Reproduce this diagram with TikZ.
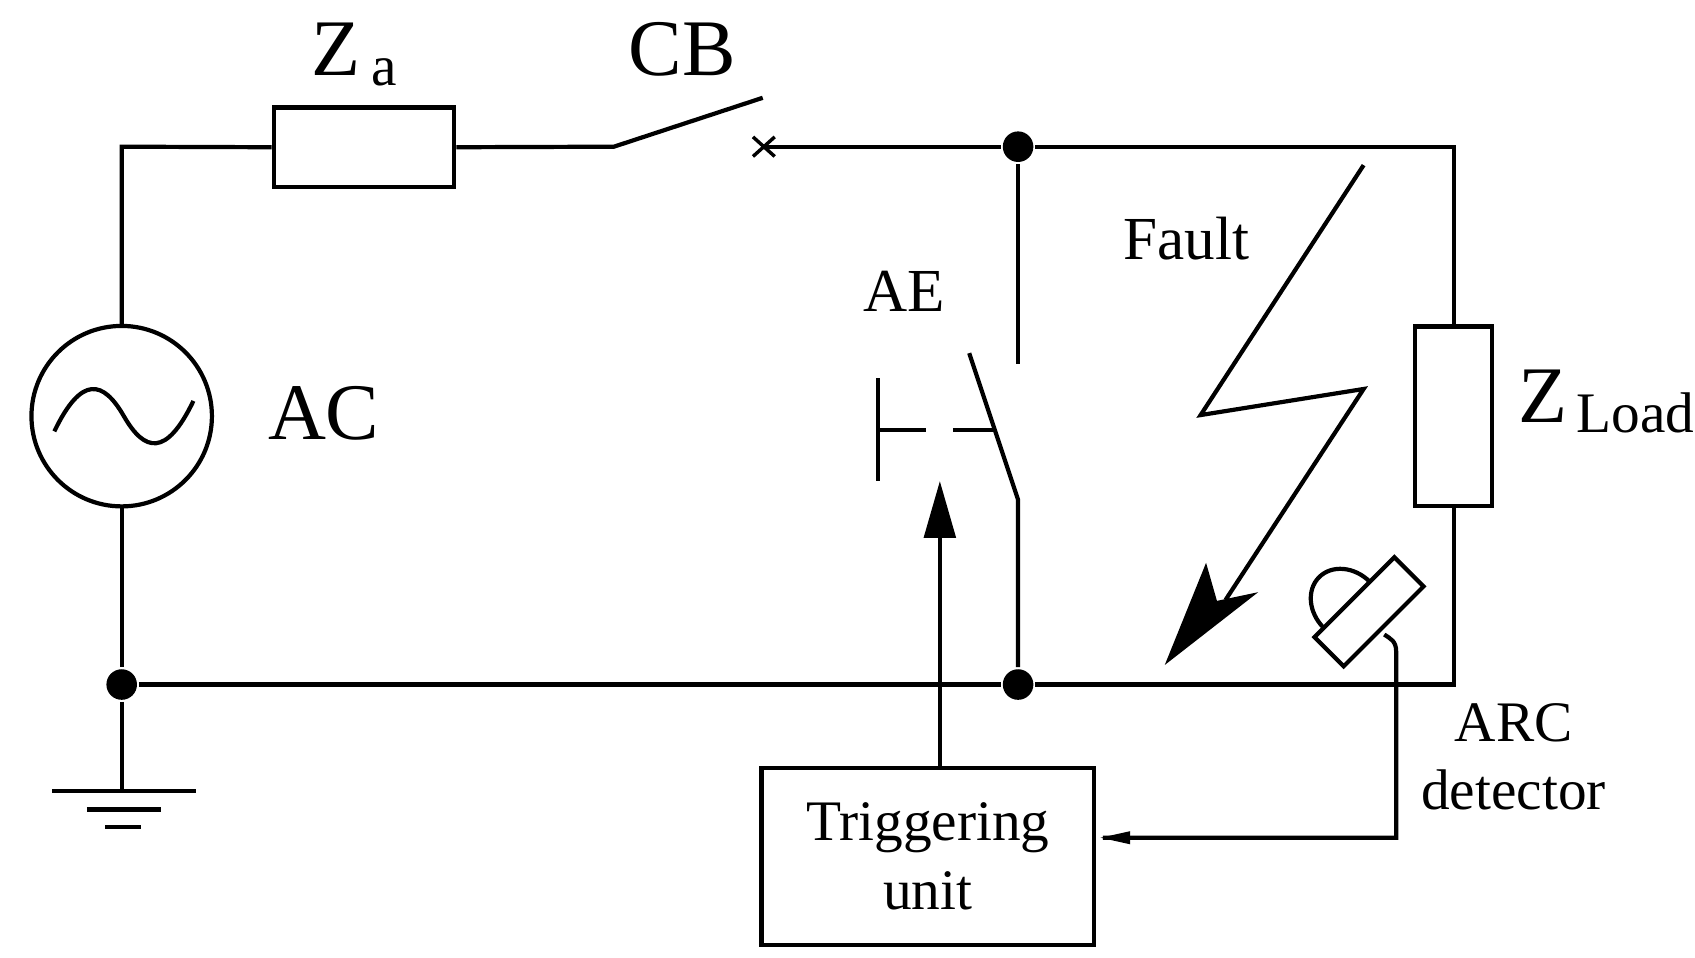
\documentclass[tikz,border=0pt]{standalone}
\usepackage{fontspec}
\setmainfont{Liberation Serif}
\usetikzlibrary{arrows.meta}
\begin{document}
\begin{tikzpicture}[x=0.01cm,y=-0.01cm,line width=1.1pt,
  box/.style={draw,line width=1.1pt,inner sep=0pt},
  dot/.style={circle,fill,inner sep=0pt,minimum size=8pt},
  lbl/.style={font=\fontsize{21}{24}\selectfont,inner sep=0pt},
  sub/.style={font=\fontsize{15}{18}\selectfont,inner sep=0pt},
  small/.style={font=\fontsize{16}{17}\selectfont,inner sep=0pt,align=center}]
\useasboundingbox (0,0) rectangle (1560,881);
% nodes
\node[inner sep=0pt,minimum size=1.66cm,circle] (src) at (112,383) {};
\node[box,minimum width=1.66cm,minimum height=0.73cm] (za) at (335,135.5) {};
\node[box,minimum width=0.71cm,minimum height=1.65cm] (zl) at (1338,383) {};
\node[box,minimum width=3.06cm,minimum height=1.63cm,small,font=\fontsize{15}{17}\selectfont] (tu) at (854,788) {Triggering\\[1pt]unit};
\node[dot] (d1) at (937,135) {};
\node[dot] (d2) at (937,630) {};
\node[dot] (d3) at (112,630) {};
\coordinate (tl) at (112,135);
\coordinate (tr) at (1338,135);
\coordinate (br) at (1338,630);
\coordinate (cbA) at (565,135);
\coordinate (cbB) at (702,90);
\coordinate (cbX) at (703,135);
\coordinate (aeTop) at (937,335);
\coordinate (aeB1) at (892,325);
\coordinate (aeB2) at (937,460);
\coordinate (gnd) at (112,728);
\draw (src.center) circle (0.83cm);
\draw (src.north) -- (tl) -- (za.west);
\draw (za.east) -- (cbA) -- (cbB);
\draw[line width=0.9pt] (cbX)+(-10,-9) -- +(10,9) (cbX)+(-10,9) -- +(10,-9);
\draw (cbX) -- (d1) -- (tr) -- (zl.north);
\draw (zl.south) -- (br) -- (d2) -- (d3);
\draw (d1) -- (aeTop);
\draw (aeB1) -- (aeB2) -- (d2);
\draw (src.south) -- (d3) -- (gnd);
\draw (48,728) -- (180,728) (80,745) -- (148,745) (97,761) -- (130,761);
% sine
\draw (50,397) .. controls (75,345) and (95,350) .. (114,383) .. controls (133,416) and (153,421) .. (178,369);
% AE contact
\draw (808,348) -- (808,443);
\draw (808,396) -- (852,396) (877,396) -- (915,396);
% trigger arrow
\draw (tu.north -| 865,0) -- (865,490);
\fill (865,443) -- (880,495) -- (850,495) -- cycle;
% ARC detector wire
\draw (1015,771) -- (1285,771) -- (1285,600) .. controls (1285,590) and (1280,588) .. (1274,584);
\fill (1013,771) -- (1040,765) -- (1040,777) -- cycle;
% sensor
\begin{scope}[shift={(1260,563)},rotate=45]
\draw (-52,-19) rectangle (52,19);
\draw (-40,-19) arc (180:360:30 and 36);
\end{scope}
% lightning
\draw (1255,152) -- (1105,382) -- (1255,358) -- (1128,552);
\fill (1072,612) -- (1110,518) -- (1120,553) -- (1158,545) -- cycle;
% labels
\node[lbl] (lza) at (309,45) {Z};
\node[sub] (lzas) at (354,67) {a};
\node[lbl] (lcb) at (628,45) {CB};
\node[lbl] (lac) at (298,380) {AC};
\node[small] (lae) at (832,268) {AE};
\node[small] (lf) at (1092,220) {Fault};
\node[lbl] (lzl) at (1420,365) {Z};
\node[sub] (lzls) at (1505,380) {Load};
\node[small,font=\fontsize{15}{17}\selectfont] (larc1) at (1393,665) {ARC};
\node[small,font=\fontsize{15}{17}\selectfont] (larc2) at (1393,727) {detector};
\end{tikzpicture}
\end{document}
